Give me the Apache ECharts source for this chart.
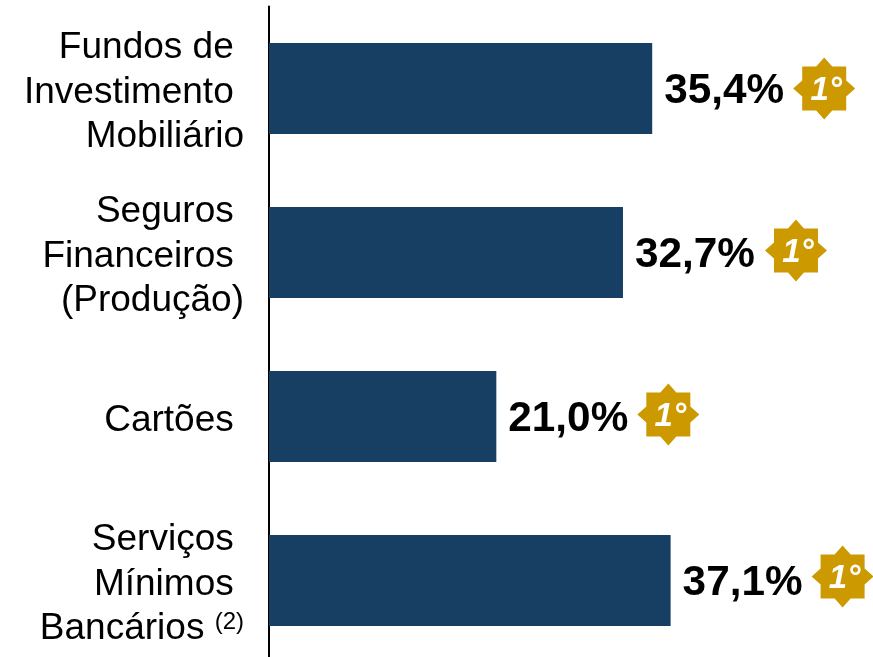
<!DOCTYPE html>
<html>
<head>
<meta charset="utf-8">
<style>html,body{margin:0;padding:0;background:#fff}#c{width:873px;height:657px}</style>
<script src="https://cdn.jsdelivr.net/npm/echarts@6/dist/echarts.min.js"></script>
</head>
<body>
<div id="c"></div>
<script>
const categories = ['Fundos de \nInvestimento \nMobiliário', 'Seguros \nFinanceiros \n(Produção)', 'Cartões ', 'Serviços \nMínimos \n{a|Bancários }{sup|(2)}'];
const values = [35.4, 32.7, 21.0, 37.1];
const ranks = ['1°', '1°', '1°', '1°'];
const starPath = 'path://M0,-31 L8,-22 L22,-22 L22,-8 L31,0 L22,8 L22,22 L8,22 L0,31 L-8,22 L-22,22 L-22,8 L-31,0 L-22,-8 L-22,-22 L-8,-22 Z';
const badgeOffsets = [[172, 0], [173, -2], [172, -2], [172, -4]];
const chart = echarts.init(document.getElementById('c'), null, {renderer: 'canvas'});
chart.setOption({
  animation: false,
  backgroundColor: '#ffffff',
  textStyle: {fontFamily: '"Liberation Sans", Arial, sans-serif'},
  grid: {left: 269, top: 6.5, width: 433, height: 656, outerBoundsMode: 'none'},
  xAxis: {type: 'value', min: 0, max: 40, show: false},
  yAxis: {
    type: 'category', inverse: true, data: categories,
    axisLine: {show: true, lineStyle: {color: '#000', width: 2}},
    axisTick: {show: false},
    axisLabel: {
      margin: 25, align: 'right', verticalAlign: 'middle', color: '#000',
      fontFamily: '"Liberation Sans", Arial, sans-serif',
      fontSize: 37, lineHeight: 44.5, padding: [8, 0, 0, 0],
      rich: {
        a: {fontSize: 37, lineHeight: 44.5, color: '#000'},
        sup: {fontSize: 24, lineHeight: 44.5, color: '#000', padding: [0, 0, 13, 0]}
      }
    }
  },
  series: [
    {
      type: 'bar', data: values, barWidth: 91,
      itemStyle: {color: '#163F63'},
      label: {
        show: true, position: 'right', distance: 12, offset: [0, 3], color: '#000',
        fontFamily: '"Liberation Sans", Arial, sans-serif',
        fontSize: 42.3, fontWeight: 'bold',
        formatter: p => p.value.toFixed(1).replace('.', ',') + '%'
      }
    },
    {
      type: 'scatter', coordinateSystem: 'cartesian2d', clip: false,
      data: values.map((v, i) => ({value: [v, i, ranks[i]], symbolOffset: badgeOffsets[i]})),
      symbol: starPath, symbolSize: 62, symbolKeepAspect: true,
      itemStyle: {color: '#CC9900', opacity: 1},
      silent: true,
      label: {
        show: true, position: 'inside', offset: [2, 2], color: '#fff',
        fontFamily: '"Liberation Sans", Arial, sans-serif',
        fontSize: 33, fontStyle: 'italic', fontWeight: 'bold',
        formatter: p => p.value[2]
      }
    }
  ]
});
</script>
</body>
</html>
